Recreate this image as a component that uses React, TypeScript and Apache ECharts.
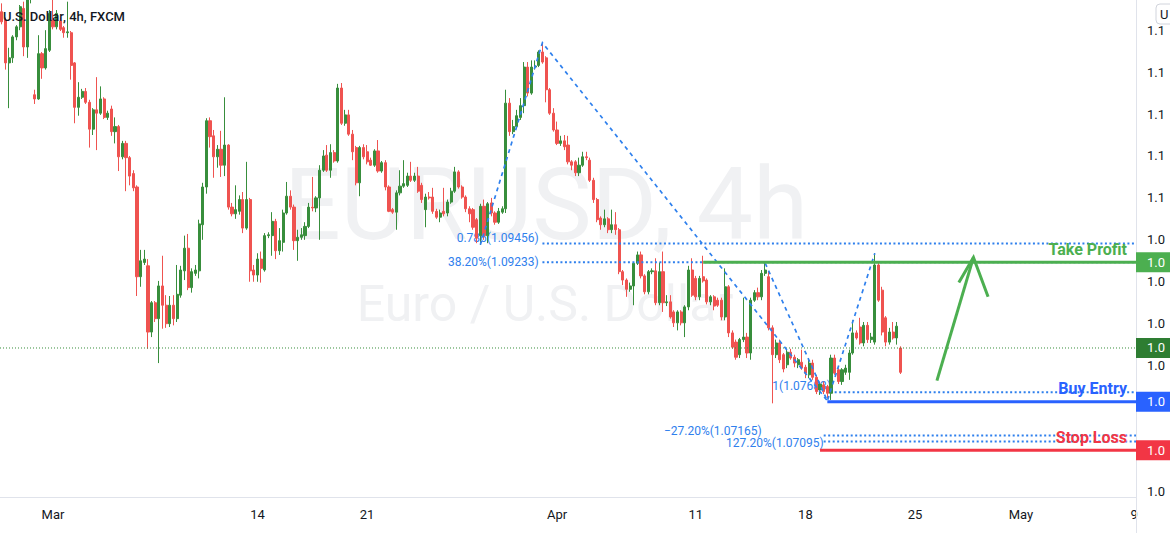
import React, { useEffect, useRef } from "react";
import * as echarts from "echarts";

// ---- 4h candles (EUR/USD, FXCM), index 0 = first visible bar ----
const opens = [
  1.1222, 1.1212, 1.1161, 1.1167, 1.1192, 1.1204, 1.1226, 1.1180, 1.1243, 1.1123,
  1.1118, 1.1172, 1.1155, 1.1176, 1.1212, 1.1204, 1.1211, 1.1203, 1.1197, 1.1197,
  1.1161, 1.1108, 1.1120, 1.1127, 1.1114, 1.1082, 1.1105, 1.1101, 1.1118, 1.1096,
  1.1106, 1.1079, 1.1085, 1.1049, 1.1065, 1.1048, 1.1029, 1.1013, 1.0906, 1.0923,
  1.0919, 1.0840, 1.0875, 1.0856, 1.0895, 1.0872, 1.0850, 1.0872, 1.0856, 1.0884,
  1.0913, 1.0940, 1.0893, 1.0910, 1.0913, 1.0968, 1.1013, 1.1092, 1.1074, 1.1049,
  1.1058, 1.1039, 1.1063, 1.0989, 1.0981, 1.0984, 1.0998, 1.0964, 1.0998, 1.0914,
  1.0908, 1.0927, 1.0914, 1.0955, 1.0955, 1.0972, 1.0937, 1.0947, 1.0982, 1.1002,
  1.0989, 1.0949, 1.0953, 1.0955, 1.0966, 1.0989, 1.0988, 1.1000, 1.1033, 1.1051,
  1.1033, 1.1054, 1.1044, 1.1131, 1.1089, 1.1099, 1.1076, 1.1060, 1.1018, 1.1060,
  1.1055, 1.1045, 1.1039, 1.1056, 1.1032, 1.1042, 1.1013, 1.0986, 1.0983, 1.1006,
  1.1014, 1.1015, 1.1026, 1.1021, 1.1026, 1.1015, 1.0986, 1.1001, 1.1001, 1.0984,
  1.0977, 1.0984, 1.0982, 1.0995, 1.1008, 1.1031, 1.1013, 1.1001, 1.0987, 1.0986,
  1.0974, 1.0955, 1.0990, 1.0955, 1.0994, 1.0982, 1.0971, 1.0983, 1.0987, 1.1113,
  1.1079, 1.1085, 1.1096, 1.1110, 1.1156, 1.1125, 1.1156, 1.1158, 1.1174, 1.1167,
  1.1129, 1.1101, 1.1081, 1.1065, 1.1068, 1.1063, 1.1043, 1.1043, 1.1030, 1.1039,
  1.1049, 1.1045, 1.1021, 1.0998, 1.0976, 1.0968, 1.0975, 1.0962, 1.0968, 1.0962,
  1.0912, 1.0902, 1.0891, 1.0895, 1.0922, 1.0932, 1.0907, 1.0888, 1.0912, 1.0913,
  1.0875, 1.0912, 1.0875, 1.0876, 1.0864, 1.0851, 1.0864, 1.0851, 1.0870, 1.0914,
  1.0904, 1.0882, 1.0906, 1.0902, 1.0876, 1.0882, 1.0878, 1.0878, 1.0858, 1.0894,
  1.0839, 1.0828, 1.0813, 1.0831, 1.0834, 1.0815, 1.0878, 1.0887, 1.0882, 1.0910,
  1.0906, 1.0845, 1.0813, 1.0827, 1.0813, 1.0801, 1.0816, 1.0810, 1.0801, 1.0804,
  1.0798, 1.0789, 1.0803, 1.0786, 1.0771, 1.0777, 1.0775, 1.0767, 1.0809, 1.0795,
  1.0781, 1.0792, 1.0792, 1.0815, 1.0839, 1.0846, 1.0827, 1.0848, 1.0831, 1.0828,
  1.0920, 1.0890, 1.0857, 1.0828, 1.0840, 1.0833, 1.0821,
];
const closes = [
  1.1210, 1.1161, 1.1167, 1.1192, 1.1204, 1.1228, 1.1180, 1.1236, 1.1248, 1.1118,
  1.1172, 1.1155, 1.1178, 1.1220, 1.1204, 1.1220, 1.1201, 1.1197, 1.1198, 1.1158,
  1.1108, 1.1120, 1.1127, 1.1114, 1.1082, 1.1105, 1.1101, 1.1118, 1.1096, 1.1101,
  1.1079, 1.1085, 1.1049, 1.1065, 1.1048, 1.1026, 1.1012, 1.0906, 1.0925, 1.0927,
  1.0840, 1.0875, 1.0856, 1.0895, 1.0872, 1.0850, 1.0872, 1.0856, 1.0885, 1.0914,
  1.0940, 1.0893, 1.0912, 1.0914, 1.0969, 1.1013, 1.1092, 1.1073, 1.1049, 1.1058,
  1.1039, 1.1063, 1.0989, 1.0981, 1.0986, 1.0998, 1.0964, 1.0998, 1.0913, 1.0908,
  1.0927, 1.0916, 1.0955, 1.0956, 1.0972, 1.0937, 1.0949, 1.0982, 1.1002, 1.0989,
  1.0949, 1.0953, 1.0956, 1.0966, 1.0989, 1.0988, 1.1000, 1.1033, 1.1050, 1.1033,
  1.1054, 1.1044, 1.1131, 1.1089, 1.1099, 1.1076, 1.1055, 1.1018, 1.1060, 1.1049,
  1.1043, 1.1039, 1.1056, 1.1032, 1.1042, 1.1013, 1.0984, 1.0983, 1.1006, 1.1014,
  1.1017, 1.1026, 1.1021, 1.1026, 1.1008, 1.0998, 1.1001, 1.1000, 1.0984, 1.0977,
  1.0982, 1.0981, 1.0995, 1.1008, 1.1031, 1.1013, 1.1001, 1.0987, 1.0981, 1.0965,
  1.0952, 1.0990, 1.0955, 1.0993, 1.0982, 1.0971, 1.0984, 1.0987, 1.1113, 1.1079,
  1.1085, 1.1098, 1.1110, 1.1156, 1.1125, 1.1156, 1.1157, 1.1174, 1.1162, 1.1129,
  1.1101, 1.1081, 1.1065, 1.1068, 1.1061, 1.1043, 1.1039, 1.1030, 1.1039, 1.1049,
  1.1048, 1.1021, 1.0998, 1.0974, 1.0968, 1.0975, 1.0962, 1.0968, 1.0962, 1.0912,
  1.0902, 1.0891, 1.0895, 1.0922, 1.0932, 1.0907, 1.0888, 1.0912, 1.0913, 1.0875,
  1.0912, 1.0875, 1.0876, 1.0858, 1.0851, 1.0864, 1.0851, 1.0870, 1.0914, 1.0884,
  1.0882, 1.0904, 1.0901, 1.0876, 1.0882, 1.0871, 1.0872, 1.0858, 1.0894, 1.0839,
  1.0822, 1.0810, 1.0831, 1.0834, 1.0815, 1.0878, 1.0887, 1.0882, 1.0910, 1.0914,
  1.0845, 1.0813, 1.0827, 1.0807, 1.0796, 1.0816, 1.0809, 1.0803, 1.0807, 1.0797,
  1.0791, 1.0803, 1.0786, 1.0769, 1.0778, 1.0769, 1.0767, 1.0809, 1.0791, 1.0781,
  1.0795, 1.0797, 1.0815, 1.0839, 1.0833, 1.0827, 1.0848, 1.0831, 1.0834, 1.0920,
  1.0878, 1.0840, 1.0828, 1.0840, 1.0833, 1.0847, 1.0792,
];
const lows = [
  1.1207, 1.1153, 1.1107, 1.1161, 1.1188, 1.1200, 1.1169, 1.1167, 1.1232, 1.1112,
  1.1117, 1.1142, 1.1153, 1.1174, 1.1201, 1.1201, 1.1199, 1.1191, 1.1191, 1.1141,
  1.1089, 1.1098, 1.1118, 1.1112, 1.1060, 1.1075, 1.1057, 1.1099, 1.1094, 1.1093,
  1.1074, 1.1065, 1.1032, 1.1046, 1.1008, 1.1015, 1.1008, 1.0883, 1.0894, 1.0920,
  1.0820, 1.0834, 1.0852, 1.0803, 1.0844, 1.0845, 1.0846, 1.0848, 1.0852, 1.0881,
  1.0902, 1.0890, 1.0887, 1.0907, 1.0904, 1.0950, 1.1005, 1.1060, 1.1024, 1.1036,
  1.1025, 1.1026, 1.0986, 1.0978, 1.0975, 1.0980, 1.0958, 1.0962, 1.0900, 1.0900,
  1.0900, 1.0899, 1.0912, 1.0952, 1.0931, 1.0927, 1.0932, 1.0936, 1.0980, 1.0986,
  1.0938, 1.0925, 1.0950, 1.0950, 1.0964, 1.0984, 1.0983, 1.0950, 1.1031, 1.1031,
  1.1024, 1.1042, 1.1042, 1.1087, 1.1086, 1.1074, 1.1045, 1.1015, 1.1002, 1.1046,
  1.1040, 1.1038, 1.1037, 1.1030, 1.1030, 1.1009, 1.0983, 1.0981, 1.0962, 1.1003,
  1.1012, 1.1013, 1.1019, 1.1019, 1.1006, 1.0994, 1.0965, 1.0998, 1.0981, 1.0975,
  1.0971, 1.0978, 1.0978, 1.0993, 1.1006, 1.1011, 1.0999, 1.0983, 1.0971, 1.0962,
  1.0946, 1.0944, 1.0950, 1.0946, 1.0978, 1.0968, 1.0969, 1.0981, 1.0982, 1.1074,
  1.1076, 1.1082, 1.1093, 1.1101, 1.1121, 1.1123, 1.1153, 1.1156, 1.1160, 1.1114,
  1.1099, 1.1079, 1.1063, 1.1062, 1.1057, 1.1040, 1.1033, 1.1026, 1.1026, 1.1037,
  1.1045, 1.1019, 1.0994, 1.0971, 1.0962, 1.0965, 1.0958, 1.0958, 1.0956, 1.0909,
  1.0896, 1.0882, 1.0888, 1.0872, 1.0920, 1.0904, 1.0885, 1.0885, 1.0909, 1.0872,
  1.0872, 1.0864, 1.0871, 1.0856, 1.0846, 1.0842, 1.0848, 1.0834, 1.0866, 1.0882,
  1.0878, 1.0878, 1.0899, 1.0873, 1.0872, 1.0866, 1.0870, 1.0854, 1.0854, 1.0834,
  1.0820, 1.0807, 1.0809, 1.0828, 1.0809, 1.0807, 1.0876, 1.0878, 1.0878, 1.0907,
  1.0842, 1.0755, 1.0809, 1.0803, 1.0792, 1.0797, 1.0807, 1.0798, 1.0797, 1.0795,
  1.0785, 1.0785, 1.0783, 1.0766, 1.0765, 1.0766, 1.0761, 1.0759, 1.0789, 1.0778,
  1.0777, 1.0789, 1.0783, 1.0813, 1.0831, 1.0825, 1.0823, 1.0827, 1.0827, 1.0825,
  1.0876, 1.0836, 1.0823, 1.0825, 1.0831, 1.0825, 1.0790,
];
const highs = [
  1.1232, 1.1215, 1.1179, 1.1194, 1.1206, 1.1230, 1.1234, 1.1242, 1.1253, 1.1129,
  1.1194, 1.1174, 1.1200, 1.1224, 1.1236, 1.1224, 1.1215, 1.1205, 1.1234, 1.1199,
  1.1162, 1.1138, 1.1130, 1.1131, 1.1117, 1.1107, 1.1144, 1.1133, 1.1120, 1.1104,
  1.1110, 1.1096, 1.1087, 1.1068, 1.1068, 1.1050, 1.1033, 1.1015, 1.0938, 1.0938,
  1.0927, 1.0877, 1.0877, 1.0901, 1.0931, 1.0884, 1.0883, 1.0884, 1.0920, 1.0919,
  1.0955, 1.0957, 1.0916, 1.0920, 1.0974, 1.1018, 1.1095, 1.1096, 1.1081, 1.1063,
  1.1080, 1.1120, 1.1064, 1.0994, 1.1015, 1.1003, 1.1007, 1.1043, 1.1000, 1.0920,
  1.0934, 1.0936, 1.0958, 1.0959, 1.0983, 1.0975, 1.0964, 1.0986, 1.1019, 1.1009,
  1.0992, 1.0962, 1.0964, 1.0971, 1.0994, 1.1025, 1.1002, 1.1039, 1.1057, 1.1063,
  1.1064, 1.1057, 1.1136, 1.1137, 1.1105, 1.1105, 1.1081, 1.1062, 1.1062, 1.1064,
  1.1063, 1.1048, 1.1058, 1.1069, 1.1044, 1.1045, 1.1015, 1.0988, 1.1009, 1.1033,
  1.1045, 1.1030, 1.1043, 1.1030, 1.1037, 1.1018, 1.1005, 1.1007, 1.1012, 1.0987,
  1.0986, 1.1012, 1.0998, 1.1012, 1.1037, 1.1033, 1.1015, 1.1003, 1.0990, 1.0988,
  1.0976, 1.0993, 1.0998, 1.0995, 1.1000, 1.0984, 1.0988, 1.0990, 1.1129, 1.1119,
  1.1093, 1.1105, 1.1119, 1.1162, 1.1162, 1.1164, 1.1164, 1.1176, 1.1185, 1.1169,
  1.1131, 1.1107, 1.1091, 1.1074, 1.1075, 1.1074, 1.1045, 1.1045, 1.1048, 1.1055,
  1.1055, 1.1048, 1.1024, 1.1000, 1.0978, 1.0986, 1.0977, 1.0986, 1.0983, 1.0964,
  1.0914, 1.0904, 1.0899, 1.0923, 1.0936, 1.0936, 1.0909, 1.0914, 1.0916, 1.0928,
  1.0923, 1.0936, 1.0884, 1.0884, 1.0866, 1.0866, 1.0866, 1.0872, 1.0919, 1.0928,
  1.0907, 1.0907, 1.0931, 1.0904, 1.0884, 1.0884, 1.0881, 1.0881, 1.0916, 1.0896,
  1.0842, 1.0831, 1.0833, 1.0881, 1.0839, 1.0881, 1.0890, 1.0893, 1.0914, 1.0923,
  1.0912, 1.0848, 1.0831, 1.0831, 1.0815, 1.0820, 1.0820, 1.0813, 1.0809, 1.0819,
  1.0801, 1.0807, 1.0807, 1.0789, 1.0781, 1.0781, 1.0777, 1.0813, 1.0813, 1.0797,
  1.0797, 1.0801, 1.0819, 1.0854, 1.0842, 1.0857, 1.0852, 1.0852, 1.0839, 1.0934,
  1.0923, 1.0894, 1.0859, 1.0845, 1.0852, 1.0852, 1.0823,
];

// ---- axes ----
const SLOT_COUNT = 311; // bars that fit in the pane (incl. future space)
const Y_MIN = 1.06433;
const Y_MAX = 1.1236;
const yTicks = [1.12, 1.115, 1.11, 1.105, 1.1, 1.095, 1.09, 1.085, 1.08, 1.075, 1.07, 1.065];
// tick label -> bar (session start for months, first bar of the day for days)
const xTickBars = ["2022-02-28 17:00", "2022-03-14 01:00", "2022-03-21 01:00", "2022-03-31 17:00", "2022-04-11 01:00", "2022-04-18 01:00", "2022-04-25 01:00", "2022-05-01 21:00", "2022-05-09 01:00"];
const xTickTexts = ["Mar", "14", "21", "Apr", "11", "18", "25", "May", "9"];

// ---- drawings (bar index, price) ----
const fibLevels = [
  { text: "0.786(1.09456)", price: 1.09456, from: 148, labelAt: 147, dy: -6 },
  { text: "38.20%(1.09233)", price: 1.09233, from: 148, labelAt: 147, dy: 0 },
  { text: "1(1.07683)", price: 1.07683, from: 228, labelAt: 227, dy: -6 },
  { text: "\u221227.20%(1.07165)", price: 1.07165, from: 225, labelAt: 208, dy: -5 },
  { text: "127.20%(1.07095)", price: 1.07095, from: 225, labelAt: 225, dy: 2 },
];
const tradeLevels = [
  { text: "Take Profit", price: 1.09233, from: 192, color: "#4caf50" },
  { text: "Buy Entry", price: 1.0757, from: 226, color: "#2962ff" },
  { text: "Stop Loss", price: 1.0699, from: 224, color: "#f23645" },
];
const lastPrice = 1.0821;
const priceBoxes = [
  { price: 1.09233, color: "#4caf50" },
  { price: lastPrice, color: "#2e7d32" },
  { price: 1.0757, color: "#2962ff" },
  { price: 1.0699, color: "#f23645" },
];
const patternA = [[131, 1.0944], [148, 1.1185], [226, 1.0758]];
const patternB = [[209, 1.0922], [226, 1.0758], [239, 1.0934]];
const arrowShaft = [[256, 1.0782], [266, 1.0929]];
const arrowHead = [[262, 1.0899], [266, 1.0929], [270, 1.0882]];

const FONT = 'Roboto, "Open Sans", "Noto Sans", sans-serif';
const GRID_RIGHT = 34;
const GRID_BOTTOM = 36;
const FIB_COLOR = "#2f80ed";

const pad = (n: number) => String(n).padStart(2, "0");
function buildCategories(count: number): string[] {
  const out: string[] = [];
  let t = Date.UTC(2022, 1, 24, 9);
  while (out.length < count) {
    const d = new Date(t);
    const dow = d.getUTCDay();
    const h = d.getUTCHours();
    const closed = dow === 6 || (dow === 0 && h < 17) || (dow === 5 && h > 13);
    if (!closed) out.push(`${d.getUTCFullYear()}-${pad(d.getUTCMonth() + 1)}-${pad(d.getUTCDate())} ${pad(h)}:00`);
    t += 4 * 3600 * 1000;
  }
  return out;
}

const txt = (x: number, y: number, z: number, text: string, fill: string, fontSize: number, align: string, extra: any = {}) => ({
  type: "text", z, x, y,
  style: { text, fill, fontSize, fontFamily: FONT, align, verticalAlign: "middle", textAlign: align, textVerticalAlign: "middle", ...extra },
});

function buildOverlay(chart: any): any[] {
  const W = chart.getWidth();
  const H = chart.getHeight();
  const right = W - GRID_RIGHT;
  const bottom = H - GRID_BOTTOM;
  const X = (i: number) => chart.convertToPixel({ xAxisIndex: 0 }, i) as number;
  const Y = (p: number) => chart.convertToPixel({ yAxisIndex: 0 }, p) as number;
  const pts = (arr: number[][]) => arr.map(([i, p]) => [X(i), Y(p)]);
  const els: any[] = [];

  // watermark
  els.push(txt(546, 204, 0, "EURUSD, 4h", "#f0f1f3", 100, "center"));
  els.push(txt(545, 304, 0, "Euro / U.S. Dollar", "#f0f1f3", 50, "center"));

  // fib levels
  fibLevels.forEach((f) => {
    const y = Y(f.price);
    els.push({ type: "line", z: 10, shape: { x1: X(f.from), y1: y, x2: right, y2: y }, style: { stroke: FIB_COLOR, lineWidth: 2, lineDash: [2, 2.5] } });
    els.push(txt(X(f.labelAt), y + f.dy, 1, f.text, FIB_COLOR, 12, "right"));
  });

  // last price line
  const yl = Y(lastPrice);
  els.push({ type: "line", z: 9, shape: { x1: 0, y1: yl, x2: right, y2: yl }, style: { stroke: "#388e3c", lineWidth: 1, lineDash: [1, 2] } });

  // pattern (dashed)
  [patternA, patternB].forEach((p) => {
    els.push({ type: "polyline", z: 10, shape: { points: pts(p) }, style: { stroke: FIB_COLOR, lineWidth: 1.7, lineDash: [4, 4], fill: null } });
  });

  // trade levels
  tradeLevels.forEach((t) => {
    const y = Y(t.price);
    els.push({ type: "line", z: 11, shape: { x1: X(t.from), y1: y, x2: right, y2: y }, style: { stroke: t.color, lineWidth: 3 } });
    els.push(txt(right - 9, y - 13, 12, t.text, t.color, 16, "right", { fontWeight: "bold" }));
  });

  // arrow
  els.push({ type: "polyline", z: 11, shape: { points: pts(arrowShaft) }, style: { stroke: "#4caf50", lineWidth: 3, fill: null } });
  els.push({ type: "polyline", z: 11, shape: { points: pts(arrowHead) }, style: { stroke: "#4caf50", lineWidth: 3, fill: null, lineJoin: "miter" } });

  // price scale labels (those covered by a price box are not visible)
  const boxYs = priceBoxes.map((b) => Y(b.price));
  yTicks.forEach((v) => {
    const y = Y(v);
    if (boxYs.some((by) => Math.abs(by - y) < 14)) return;
    els.push(txt(right + 11, y, 20, v.toFixed(5).slice(0, 3), "#131722", 13, "left"));
  });
  priceBoxes.forEach((b, k) => {
    const y = boxYs[k];
    els.push({ type: "rect", z: 21, shape: { x: right, y: y - 10, width: GRID_RIGHT, height: 20 }, style: { fill: b.color } });
    els.push(txt(right + 11, y, 22, b.price.toFixed(5).slice(0, 3), "#ffffff", 13, "left"));
  });

  // separators
  els.push({ type: "line", z: 20, shape: { x1: right + 0.5, y1: 0, x2: right + 0.5, y2: H }, style: { stroke: "#e0e3eb", lineWidth: 1 } });
  els.push({ type: "line", z: 20, shape: { x1: 0, y1: bottom + 0.5, x2: right, y2: bottom + 0.5 }, style: { stroke: "#e0e3eb", lineWidth: 1 } });

  // currency button
  els.push({ type: "rect", z: 23, shape: { x: 1156, y: 4, width: 24, height: 20, r: 4 }, style: { fill: "#ffffff", stroke: "#d1d4dc", lineWidth: 1 } });
  els.push(txt(1160, 14, 24, "U", "#131722", 13, "left"));

  // title
  els.push(txt(3, 16, 25, "U.S. Dollar, 4h, FXCM", "#131722", 13, "left", { fontWeight: 500 }));
  return els;
}

export default function App() {
  const ref = useRef<HTMLDivElement>(null);
  useEffect(() => {
    const el = ref.current;
    if (!el) return;
    const chart = echarts.init(el, undefined, { renderer: "svg" });
    const categories = buildCategories(SLOT_COUNT);
    const tickMap: Record<number, string> = {};
    xTickBars.forEach((c, k) => {
      const idx = categories.indexOf(c);
      if (idx >= 0) tickMap[idx] = xTickTexts[k];
    });
    const data = opens.map((o, i) => [o, closes[i], lows[i], highs[i]]);
    chart.setOption({
      animation: false,
      backgroundColor: "#ffffff",
      grid: { left: 0, right: GRID_RIGHT, top: 0, bottom: GRID_BOTTOM },
      xAxis: {
        type: "category",
        data: categories,
        boundaryGap: true,
        axisLine: { show: false },
        axisTick: { show: false },
        splitLine: { show: false },
        axisLabel: {
          interval: (idx: number) => tickMap[idx] !== undefined,
          formatter: (_v: string, idx: number) => tickMap[idx] ?? "",
          color: "#131722",
          fontSize: 13,
          fontFamily: FONT,
          margin: 11,
        },
      },
      yAxis: {
        type: "value",
        position: "right",
        min: Y_MIN,
        max: Y_MAX,
        scale: true,
        axisLine: { show: false },
        axisTick: { show: false },
        axisLabel: { show: false },
        splitLine: { show: false },
      },
      series: [
        {
          type: "candlestick",
          data,
          z: 5,
          barWidth: "72%",
          clip: true,
          itemStyle: {
            color: "#388e3c",
            color0: "#ef5350",
            borderColor: "#388e3c",
            borderColor0: "#ef5350",
            borderWidth: 1,
          },
        },
      ],
    });
    chart.setOption({ graphic: { elements: buildOverlay(chart) } });
    return () => chart.dispose();
  }, []);
  return <div ref={ref} style={{ position: "fixed", left: 0, top: 0, width: 1170, height: 533, background: "#ffffff" }} />;
}
